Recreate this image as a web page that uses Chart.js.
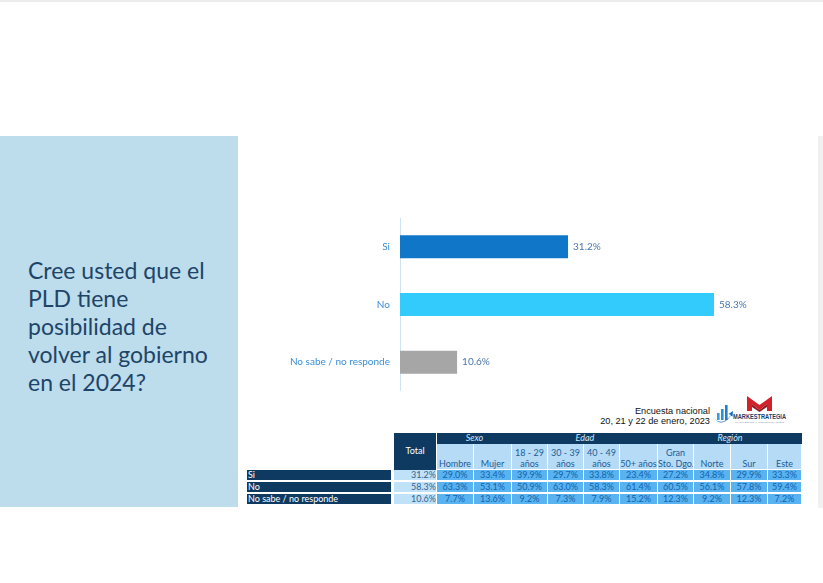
<!DOCTYPE html>
<html>
<head>
<meta charset="utf-8">
<script src="https://cdn.jsdelivr.net/npm/chart.js@4.4.0/dist/chart.umd.min.js"></script>
<style>
  html,body{margin:0;padding:0;background:#fff;}
  body{width:823px;height:583px;position:relative;overflow:hidden;font-family:Lato,"Open Sans",sans-serif;}
  #topline{position:absolute;left:0;top:0;width:823px;height:2px;background:#ececec;}
  #panel{position:absolute;left:0;top:136px;width:238px;height:371px;background:#bddcec;}
  #question{position:absolute;left:28px;top:256px;width:210px;color:#1d4568;font-size:23px;line-height:28px;white-space:nowrap;}
  #strip{position:absolute;left:818px;top:136px;width:5px;height:372px;background:#f1f1f1;}
  #bars{position:absolute;left:240px;top:218px;}
  #note{position:absolute;left:560px;top:406px;width:150px;text-align:right;font-family:"Liberation Sans",Arial,sans-serif;font-size:9.2px;line-height:10px;color:#111;}
  #logo{position:absolute;left:712px;top:394px;}
  .c{position:absolute;box-sizing:border-box;font-size:9px;line-height:10px;white-space:nowrap;overflow:hidden;}
</style>
</head>
<body>
<div id="topline"></div>
<div id="panel"></div>
<div id="question">Cree usted que el<br>PLD tiene<br>posibilidad de<br>volver al gobierno<br>en el 2024?</div>
<div id="strip"></div>
<canvas id="bars" width="537" height="173"></canvas>
<div id="note">Encuesta nacional<br>20, 21 y 22 de enero, 2023</div>
<svg id="logo" width="80" height="32" viewBox="0 0 80 32">
  <rect x="5" y="19" width="2.6" height="7" fill="#3b9be0"/>
  <rect x="9" y="15" width="2.6" height="11" fill="#2b8fd8"/>
  <rect x="13" y="11" width="2.6" height="15" fill="#1f7fcc"/>
  <path d="M2 24 Q10 33 19 21 L16.5 20 L21 17 L20.5 22.5 L18.8 21.8 Q10 34 2 24Z" fill="#1668b8"/>
  <path d="M35 17 L35 2 L47.5 11 L60 2 L60 17 L55 17 L55 10 L47.5 16 L40 10 L40 17Z" fill="#d3212b"/>
  <path d="M40 10 L47.5 16 L55 10 L55 13 L47.5 18 L40 13Z" fill="#8e1a22"/>
  <text x="21" y="25" font-family="Liberation Sans,Arial" font-weight="bold" font-size="6.4" fill="#1a3d6b" textLength="53" lengthAdjust="spacingAndGlyphs">MARKESTRATEGIA</text>
  <text x="23" y="28.5" font-family="Liberation Sans,Arial" font-size="2.4" fill="#8a9ab0" textLength="49" lengthAdjust="spacingAndGlyphs">MARKETING Y COMUNICACIÓN</text>
</svg>
<div id="table"></div>
<script>
// ---- chart data ----
const answers = ['Si', 'No', 'No sabe / no responde'];
const totals = [31.2, 58.3, 10.6];
const barColors = ['#0f76c8', '#33cbfc', '#a6a6a6'];

// ---- crosstab data ----
const groups = ['Sexo', 'Edad', 'Región'];
const groupSpans = [2, 4, 4];
const subLabels = ['Hombre', 'Mujer', '18 - 29\naños', '30 - 39\naños', '40 - 49\naños', '50+ años', 'Gran\nSto. Dgo.', 'Norte', 'Sur', 'Este'];
const siRow = [29.0, 33.4, 39.9, 29.7, 33.8, 23.4, 27.2, 34.8, 29.9, 33.3];
const noRow = [63.3, 53.1, 50.9, 63.0, 58.3, 61.4, 60.5, 56.1, 57.8, 59.4];
const nsRow = [7.7, 13.6, 9.2, 7.3, 7.9, 15.2, 12.3, 9.2, 12.3, 7.2];

// value labels at bar ends
const valueLabels = {
  id: 'valueLabels',
  afterDatasetsDraw(chart){
    const ctx = chart.ctx;
    const meta = chart.getDatasetMeta(0);
    ctx.save();
    ctx.font = '10px Lato, sans-serif';
    ctx.fillStyle = '#4a78ad';
    ctx.textBaseline = 'middle';
    meta.data.forEach((bar, i)=>{
      ctx.fillText(totals[i].toFixed(1) + '%', bar.x + 5, bar.y);
    });
    ctx.restore();
  }
};

new Chart(document.getElementById('bars'), {
  type: 'bar',
  data: {labels: answers, datasets: [{data: totals, backgroundColor: barColors, barPercentage: 0.4, categoryPercentage: 1}]},
  options: {
    indexAxis: 'y',
    responsive: false,
    animation: false,
    layout: {padding: 0},
    plugins: {legend: {display: false}, tooltip: {enabled: false}},
    scales: {
      x: {display: false, min: 0, max: 70},
      y: {
        grid: {display: false, drawTicks: false},
        border: {display: true, color: '#cfe3f2', width: 1},
        ticks: {color: '#3a8fd8', font: {family: 'Lato', size: 10}, padding: 10},
        afterFit(scale){
          // fixed label column, no extra top/bottom room
          scale.width = 160;
          scale.paddingTop = 0;
          scale.paddingBottom = 0;
        }
      }
    }
  },
  plugins: [valueLabels]
});

// ---- crosstab table ----
const colEdges = [394, 437, 474, 512, 548, 584, 620, 658, 694, 731, 768, 802];
const rowTops = [470, 481.5, 493.5];
const rowH = 11;
const navy = '#0e3a62';
const tbl = document.getElementById('table');
function cell(x, y, w, h, txt, css){
  const d = document.createElement('div');
  d.className = 'c';
  d.style.cssText += `left:${x}px;top:${y}px;width:${w}px;height:${h}px;` + (css||'');
  d.innerHTML = txt;
  tbl.appendChild(d);
}
// Total header
cell(colEdges[0], 433, colEdges[1]-colEdges[0]-1, 37, 'Total', `background:${navy};color:#fff;text-align:center;padding-top:13px;`);
// group headers
let ci = 1;
groups.forEach((g, gi)=>{
  const x0 = colEdges[ci], x1 = colEdges[ci + groupSpans[gi]];
  cell(x0, 433, x1 - x0, 10.5, g, `background:${navy};color:#cfe6fb;text-align:center;font-style:italic;`);
  ci += groupSpans[gi];
});
// sub headers
subLabels.forEach((s, i)=>{
  const x0 = colEdges[i+1], x1 = colEdges[i+2];
  const lines = s.split('\n');
  const txt = lines.length > 1 ? lines.join('<br>') : '<br>' + s;
  cell(x0, 444, x1 - x0 - 1, 25, txt, `background:#b6dbf6;color:#1d5d96;text-align:center;padding-top:3px;line-height:11px;`);
});
// data rows
const rows = [siRow, noRow, nsRow];
rows.forEach((vals, r)=>{
  const y = rowTops[r];
  cell(247, y, 144, rowH - 1, answers[r], `background:${navy};color:#fff;padding-left:1px;`);
  cell(colEdges[0], y, colEdges[1]-colEdges[0]-1, rowH - 1, totals[r].toFixed(1) + '%', `background:#c0e2f9;color:#37618c;text-align:right;`);
  vals.forEach((v, i)=>{
    const x0 = colEdges[i+1], x1 = colEdges[i+2];
    cell(x0, y, x1 - x0 - 1, rowH - 1, v.toFixed(1) + '%', `background:#58b3f0;color:#1562ae;text-align:center;`);
  });
});
</script>
</body>
</html>
